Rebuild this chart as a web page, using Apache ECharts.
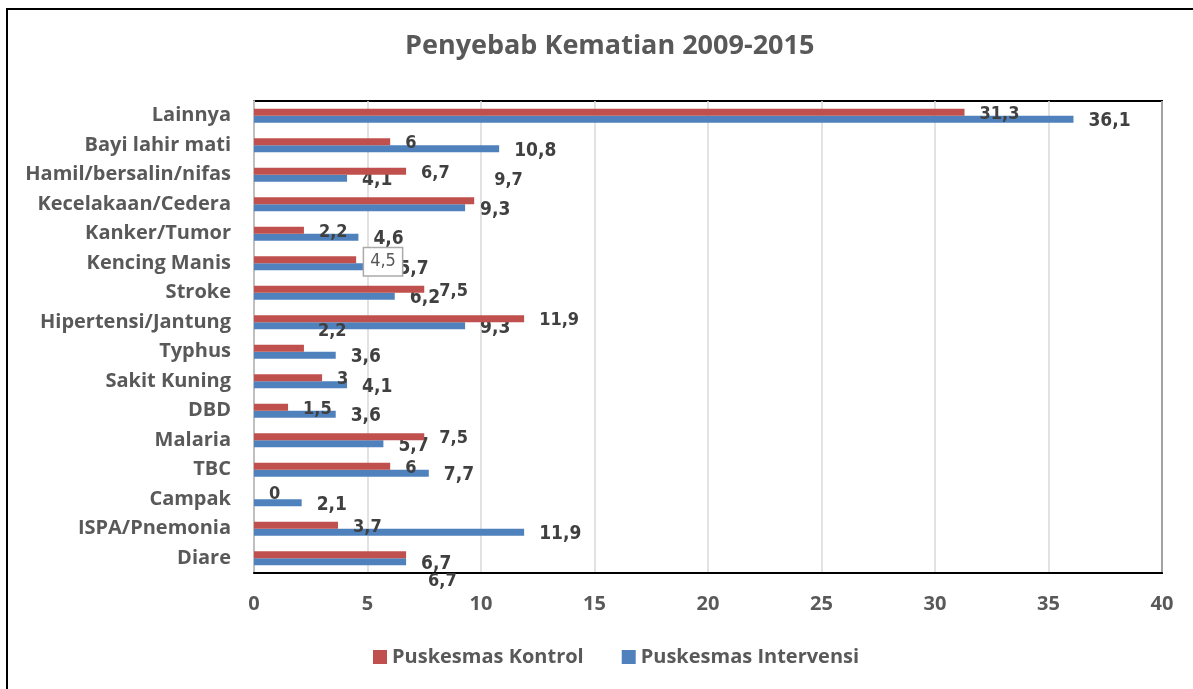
<!DOCTYPE html>
<html>
<head>
<meta charset="utf-8">
<script src="https://cdn.jsdelivr.net/npm/echarts@6/dist/echarts.min.js"></script>
<style>
  html, body { margin: 0; padding: 0; background: #fff; }
  #chart { width: 1193px; height: 689px; }
</style>
</head>
<body>
<div id="chart"></div>
<script>
// categories bottom -> top (as on the category axis)
const categories = [
  "Diare", "ISPA/Pnemonia", "Campak", "TBC", "Malaria", "DBD", "Sakit Kuning",
  "Typhus", "Hipertensi/Jantung", "Stroke", "Kencing Manis", "Kanker/Tumor",
  "Kecelakaan/Cedera", "Hamil/bersalin/nifas", "Bayi lahir mati", "Lainnya"
];
const kontrol = [6.7, 3.7, 0, 6, 7.5, 1.5, 3, 2.2, 11.9, 7.5, 4.5, 2.2, 9.7, 6.7, 6, 31.3];
const intervensi = [6.7, 11.9, 2.1, 7.7, 5.7, 3.6, 4.1, 3.6, 9.3, 6.2, 5.7, 4.6, 9.3, 4.1, 10.8, 36.1];
const xTicks = [0, 5, 10, 15, 20, 25, 30, 35, 40];

// labels that sit away from their bar in the original
const kontrolLabelShift = {
  "Kecelakaan/Cedera": [5, -20],
  "Typhus": [-1, -17],
  "Diare": [7, 27],
  "Campak": [0, -1]
};
const boxedLabel = "Kencing Manis";

const gray = "#595959";
const labelFont = "'Liberation Sans Narrow', 'DejaVu Sans Condensed', sans-serif";
const textFont = "'Open Sans', 'Noto Sans', sans-serif";

const fmt = v => String(v).replace(".", ",");

const chart = echarts.init(document.getElementById("chart"));

const kontrolData = kontrol.map((v, i) => {
  const name = categories[i];
  const item = { value: v };
  if (kontrolLabelShift[name]) {
    item.label = { offset: kontrolLabelShift[name] };
  }
  if (name === boxedLabel) {
    item.label = {
      distance: 8,
      offset: [0, 2],
      borderColor: "#aaaaaa",
      borderWidth: 1.5,
      backgroundColor: "#fff",
      padding: [5, 6, 4, 6],
      fontWeight: "normal",
      color: gray
    };
  }
  return item;
});

chart.setOption({
  animation: false,
  textStyle: { fontFamily: textFont },
  title: {
    text: "Penyebab Kematian 2009-2015",
    left: 400,
    top: 28,
    textStyle: { fontFamily: textFont, fontSize: 27, fontWeight: "bold", color: gray }
  },
  legend: {
    bottom: 17,
    left: 368,
    itemWidth: 14,
    itemHeight: 14,
    itemGap: 38,
    icon: "rect",
    textStyle: { fontFamily: textFont, fontSize: 20, fontWeight: "bold", color: gray }
  },
  graphic: [{
    type: "rect",
    shape: { x: 7, y: 9, width: 1300, height: 800 },
    style: { fill: null, stroke: "#000", lineWidth: 2 },
    silent: true
  }],
  grid: {
    left: 254,
    right: 31,
    top: 101,
    bottom: 116,
    show: true,
    borderColor: "#000",
    borderWidth: 2
  },
  xAxis: {
    type: "value",
    min: 0,
    max: 40,
    interval: 5,
    axisLine: { show: true, lineStyle: { color: "#000", width: 2 } },
    axisTick: { show: false },
    axisLabel: {
      margin: 21,
      color: gray,
      fontSize: 20,
      fontWeight: "bold",
      fontFamily: textFont,
      formatter: v => (xTicks.includes(v) ? String(v) : "")
    },
    splitLine: { show: true, lineStyle: { color: "#d9d9d9", width: 1.5 } }
  },
  yAxis: {
    type: "category",
    data: categories,
    axisLine: { show: true, lineStyle: { color: "#bfbfbf", width: 2 } },
    axisTick: { show: false },
    axisLabel: {
      margin: 23,
      color: gray,
      fontSize: 20,
      fontWeight: "bold",
      fontFamily: textFont
    }
  },
  series: [
    {
      name: "Puskesmas Kontrol",
      type: "bar",
      z: 4,
      data: kontrolData,
      barWidth: 7,
      barGap: "0%",
      itemStyle: { color: "#C0504D" },
      label: {
        show: true,
        position: "right",
        distance: 15,
        offset: [0, 2],
        color: "#404040",
        fontSize: 18,
        fontWeight: "bold",
        fontFamily: labelFont,
        formatter: p => fmt(p.value)
      }
    },
    {
      name: "Puskesmas Intervensi",
      type: "bar",
      z: 2,
      data: intervensi,
      barWidth: 7,
      barGap: "0%",
      itemStyle: { color: "#4F81BD" },
      label: {
        show: true,
        position: "right",
        distance: 15,
        offset: [0, 2],
        color: "#404040",
        fontSize: 19,
        fontWeight: "bold",
        fontFamily: labelFont,
        formatter: p => fmt(p.value)
      }
    }
  ]
});
</script>
</body>
</html>
